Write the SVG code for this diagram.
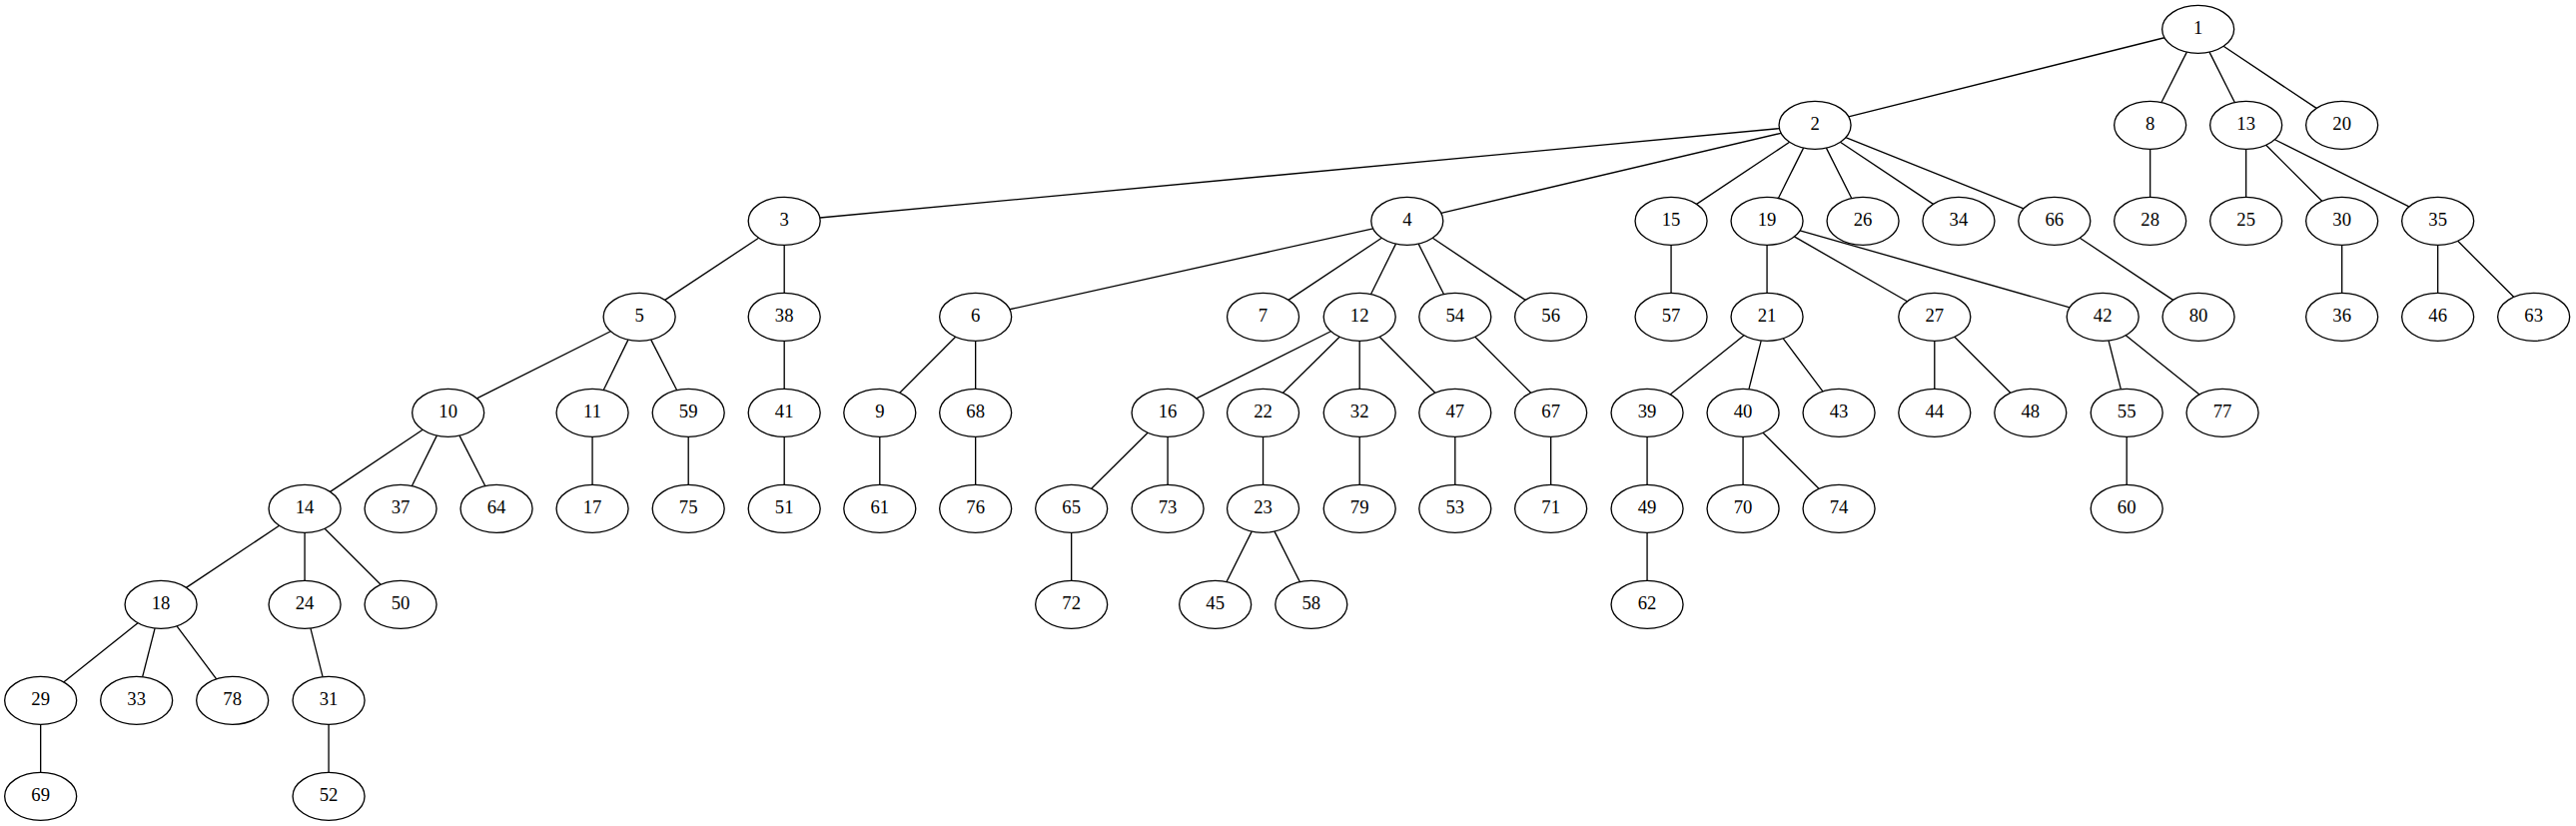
<svg xmlns="http://www.w3.org/2000/svg" width="2579" height="827" viewBox="0 0 2579 827">
<style>
.node ellipse{fill:#ffffff;stroke:#000000;stroke-width:1}
.node text{font-family:"Liberation Serif","Times New Roman",serif;font-size:14px;text-anchor:middle;fill:#000000}
#edges line{stroke:#000000;stroke-width:1;fill:none}
</style>
<rect x="0" y="0" width="2579" height="827" fill="#ffffff"/>
<g transform="scale(1.33333)">
<g id="edges">
<line x1="1625.2" y1="28.3" x2="1388.0" y2="87.7"/>
<line x1="1642.0" y1="39.1" x2="1623.0" y2="76.9"/>
<line x1="1659.0" y1="39.1" x2="1678.0" y2="76.9"/>
<line x1="1669.6" y1="34.7" x2="1739.4" y2="81.3"/>
<line x1="1336.0" y1="96.5" x2="615.6" y2="163.5"/>
<line x1="1337.3" y1="100.0" x2="1082.1" y2="160.0"/>
<line x1="1343.7" y1="106.7" x2="1273.9" y2="153.3"/>
<line x1="1354.2" y1="111.1" x2="1335.3" y2="148.9"/>
<line x1="1371.3" y1="111.1" x2="1390.3" y2="148.9"/>
<line x1="1381.8" y1="106.7" x2="1451.6" y2="153.3"/>
<line x1="1385.9" y1="103.3" x2="1519.5" y2="156.7"/>
<line x1="1614.5" y1="112" x2="1614.5" y2="148"/>
<line x1="1686.5" y1="112" x2="1686.5" y2="148"/>
<line x1="1701.5" y1="109.0" x2="1743.5" y2="151.0"/>
<line x1="1708.1" y1="104.8" x2="1808.9" y2="155.2"/>
<line x1="569.7" y1="178.7" x2="499.3" y2="225.3"/>
<line x1="588.9" y1="184" x2="588.9" y2="220"/>
<line x1="1031.0" y1="171.7" x2="758.1" y2="232.3"/>
<line x1="1037.5" y1="178.7" x2="967.5" y2="225.3"/>
<line x1="1048.1" y1="183.1" x2="1029.4" y2="220.9"/>
<line x1="1065.1" y1="183.1" x2="1084.1" y2="220.9"/>
<line x1="1075.7" y1="178.7" x2="1145.4" y2="225.3"/>
<line x1="1254.8" y1="184" x2="1254.8" y2="220"/>
<line x1="1326.8" y1="184" x2="1326.8" y2="220"/>
<line x1="1347.3" y1="177.7" x2="1432.1" y2="226.3"/>
<line x1="1351.6" y1="173.1" x2="1554.1" y2="230.9"/>
<line x1="1561.7" y1="178.7" x2="1631.7" y2="225.3"/>
<line x1="1758.5" y1="184" x2="1758.5" y2="220"/>
<line x1="1830.5" y1="184" x2="1830.5" y2="220"/>
<line x1="1845.5" y1="181.0" x2="1887.5" y2="223.0"/>
<line x1="458.5" y1="248.8" x2="358.1" y2="299.2"/>
<line x1="471.7" y1="255.1" x2="453.2" y2="292.9"/>
<line x1="488.8" y1="255.1" x2="508.2" y2="292.9"/>
<line x1="588.9" y1="256" x2="588.9" y2="292"/>
<line x1="717.5" y1="253.0" x2="675.6" y2="295.0"/>
<line x1="732.5" y1="256" x2="732.5" y2="292"/>
<line x1="999.3" y1="248.8" x2="898.4" y2="299.2"/>
<line x1="1005.9" y1="253.0" x2="963.4" y2="295.0"/>
<line x1="1020.9" y1="256" x2="1020.9" y2="292"/>
<line x1="1035.9" y1="253.0" x2="1077.6" y2="295.0"/>
<line x1="1107.6" y1="253.0" x2="1149.5" y2="295.0"/>
<line x1="1309.5" y1="251.8" x2="1254.1" y2="296.2"/>
<line x1="1322.4" y1="255.8" x2="1313.2" y2="292.2"/>
<line x1="1338.9" y1="254.1" x2="1368.7" y2="293.9"/>
<line x1="1452.6" y1="256" x2="1452.6" y2="292"/>
<line x1="1467.6" y1="253.0" x2="1509.6" y2="295.0"/>
<line x1="1583.3" y1="255.8" x2="1592.5" y2="292.2"/>
<line x1="1596.2" y1="251.8" x2="1651.5" y2="296.2"/>
<line x1="317.4" y1="322.7" x2="247.9" y2="369.3"/>
<line x1="328.0" y1="327.1" x2="309.3" y2="364.9"/>
<line x1="345.0" y1="327.1" x2="364.3" y2="364.9"/>
<line x1="444.8" y1="328" x2="444.8" y2="364"/>
<line x1="516.9" y1="328" x2="516.9" y2="364"/>
<line x1="588.9" y1="328" x2="588.9" y2="364"/>
<line x1="660.6" y1="328" x2="660.6" y2="364"/>
<line x1="732.5" y1="328" x2="732.5" y2="364"/>
<line x1="861.8" y1="325.0" x2="819.5" y2="367.0"/>
<line x1="876.8" y1="328" x2="876.8" y2="364"/>
<line x1="948.4" y1="328" x2="948.4" y2="364"/>
<line x1="1020.9" y1="328" x2="1020.9" y2="364"/>
<line x1="1092.6" y1="328" x2="1092.6" y2="364"/>
<line x1="1164.5" y1="328" x2="1164.5" y2="364"/>
<line x1="1236.8" y1="328" x2="1236.8" y2="364"/>
<line x1="1308.8" y1="328" x2="1308.8" y2="364"/>
<line x1="1323.8" y1="325.0" x2="1365.8" y2="367.0"/>
<line x1="1596.9" y1="328" x2="1596.9" y2="364"/>
<line x1="209.7" y1="394.7" x2="139.8" y2="441.3"/>
<line x1="228.8" y1="400" x2="228.8" y2="436"/>
<line x1="243.8" y1="397.0" x2="285.8" y2="439.0"/>
<line x1="804.5" y1="400" x2="804.5" y2="436"/>
<line x1="939.9" y1="399.1" x2="921.0" y2="436.9"/>
<line x1="957.0" y1="399.1" x2="976.0" y2="436.9"/>
<line x1="1236.8" y1="400" x2="1236.8" y2="436"/>
<line x1="103.5" y1="467.8" x2="47.8" y2="512.2"/>
<line x1="116.3" y1="471.8" x2="107.0" y2="508.2"/>
<line x1="132.8" y1="470.1" x2="162.5" y2="509.9"/>
<line x1="233.2" y1="471.8" x2="242.3" y2="508.2"/>
<line x1="30.5" y1="544" x2="30.5" y2="580"/>
<line x1="246.8" y1="544" x2="246.8" y2="580"/>
</g>
<g id="n1" class="node"><ellipse cx="1650.5" cy="22" rx="27" ry="18"/><text x="1650.5" y="25.7">1</text></g>
<g id="n2" class="node"><ellipse cx="1362.8" cy="94" rx="27" ry="18"/><text x="1362.8" y="97.7">2</text></g>
<g id="n8" class="node"><ellipse cx="1614.5" cy="94" rx="27" ry="18"/><text x="1614.5" y="97.7">8</text></g>
<g id="n13" class="node"><ellipse cx="1686.5" cy="94" rx="27" ry="18"/><text x="1686.5" y="97.7">13</text></g>
<g id="n20" class="node"><ellipse cx="1758.5" cy="94" rx="27" ry="18"/><text x="1758.5" y="97.7">20</text></g>
<g id="n3" class="node"><ellipse cx="588.9" cy="166" rx="27" ry="18"/><text x="588.9" y="169.7">3</text></g>
<g id="n4" class="node"><ellipse cx="1056.6" cy="166" rx="27" ry="18"/><text x="1056.6" y="169.7">4</text></g>
<g id="n15" class="node"><ellipse cx="1254.8" cy="166" rx="27" ry="18"/><text x="1254.8" y="169.7">15</text></g>
<g id="n19" class="node"><ellipse cx="1326.8" cy="166" rx="27" ry="18"/><text x="1326.8" y="169.7">19</text></g>
<g id="n26" class="node"><ellipse cx="1398.8" cy="166" rx="27" ry="18"/><text x="1398.8" y="169.7">26</text></g>
<g id="n34" class="node"><ellipse cx="1470.7" cy="166" rx="27" ry="18"/><text x="1470.7" y="169.7">34</text></g>
<g id="n66" class="node"><ellipse cx="1542.6" cy="166" rx="27" ry="18"/><text x="1542.6" y="169.7">66</text></g>
<g id="n28" class="node"><ellipse cx="1614.5" cy="166" rx="27" ry="18"/><text x="1614.5" y="169.7">28</text></g>
<g id="n25" class="node"><ellipse cx="1686.5" cy="166" rx="27" ry="18"/><text x="1686.5" y="169.7">25</text></g>
<g id="n30" class="node"><ellipse cx="1758.5" cy="166" rx="27" ry="18"/><text x="1758.5" y="169.7">30</text></g>
<g id="n35" class="node"><ellipse cx="1830.5" cy="166" rx="27" ry="18"/><text x="1830.5" y="169.7">35</text></g>
<g id="n5" class="node"><ellipse cx="480.1" cy="238" rx="27" ry="18"/><text x="480.1" y="241.7">5</text></g>
<g id="n38" class="node"><ellipse cx="588.9" cy="238" rx="27" ry="18"/><text x="588.9" y="241.7">38</text></g>
<g id="n6" class="node"><ellipse cx="732.5" cy="238" rx="27" ry="18"/><text x="732.5" y="241.7">6</text></g>
<g id="n7" class="node"><ellipse cx="948.4" cy="238" rx="27" ry="18"/><text x="948.4" y="241.7">7</text></g>
<g id="n12" class="node"><ellipse cx="1020.9" cy="238" rx="27" ry="18"/><text x="1020.9" y="241.7">12</text></g>
<g id="n54" class="node"><ellipse cx="1092.6" cy="238" rx="27" ry="18"/><text x="1092.6" y="241.7">54</text></g>
<g id="n56" class="node"><ellipse cx="1164.5" cy="238" rx="27" ry="18"/><text x="1164.5" y="241.7">56</text></g>
<g id="n57" class="node"><ellipse cx="1254.8" cy="238" rx="27" ry="18"/><text x="1254.8" y="241.7">57</text></g>
<g id="n21" class="node"><ellipse cx="1326.8" cy="238" rx="27" ry="18"/><text x="1326.8" y="241.7">21</text></g>
<g id="n27" class="node"><ellipse cx="1452.6" cy="238" rx="27" ry="18"/><text x="1452.6" y="241.7">27</text></g>
<g id="n42" class="node"><ellipse cx="1578.9" cy="238" rx="27" ry="18"/><text x="1578.9" y="241.7">42</text></g>
<g id="n80" class="node"><ellipse cx="1650.8" cy="238" rx="27" ry="18"/><text x="1650.8" y="241.7">80</text></g>
<g id="n36" class="node"><ellipse cx="1758.5" cy="238" rx="27" ry="18"/><text x="1758.5" y="241.7">36</text></g>
<g id="n46" class="node"><ellipse cx="1830.5" cy="238" rx="27" ry="18"/><text x="1830.5" y="241.7">46</text></g>
<g id="n63" class="node"><ellipse cx="1902.5" cy="238" rx="27" ry="18"/><text x="1902.5" y="241.7">63</text></g>
<g id="n10" class="node"><ellipse cx="336.5" cy="310" rx="27" ry="18"/><text x="336.5" y="313.7">10</text></g>
<g id="n11" class="node"><ellipse cx="444.8" cy="310" rx="27" ry="18"/><text x="444.8" y="313.7">11</text></g>
<g id="n59" class="node"><ellipse cx="516.9" cy="310" rx="27" ry="18"/><text x="516.9" y="313.7">59</text></g>
<g id="n41" class="node"><ellipse cx="588.9" cy="310" rx="27" ry="18"/><text x="588.9" y="313.7">41</text></g>
<g id="n9" class="node"><ellipse cx="660.6" cy="310" rx="27" ry="18"/><text x="660.6" y="313.7">9</text></g>
<g id="n68" class="node"><ellipse cx="732.5" cy="310" rx="27" ry="18"/><text x="732.5" y="313.7">68</text></g>
<g id="n16" class="node"><ellipse cx="876.8" cy="310" rx="27" ry="18"/><text x="876.8" y="313.7">16</text></g>
<g id="n22" class="node"><ellipse cx="948.4" cy="310" rx="27" ry="18"/><text x="948.4" y="313.7">22</text></g>
<g id="n32" class="node"><ellipse cx="1020.9" cy="310" rx="27" ry="18"/><text x="1020.9" y="313.7">32</text></g>
<g id="n47" class="node"><ellipse cx="1092.6" cy="310" rx="27" ry="18"/><text x="1092.6" y="313.7">47</text></g>
<g id="n67" class="node"><ellipse cx="1164.5" cy="310" rx="27" ry="18"/><text x="1164.5" y="313.7">67</text></g>
<g id="n39" class="node"><ellipse cx="1236.8" cy="310" rx="27" ry="18"/><text x="1236.8" y="313.7">39</text></g>
<g id="n40" class="node"><ellipse cx="1308.8" cy="310" rx="27" ry="18"/><text x="1308.8" y="313.7">40</text></g>
<g id="n43" class="node"><ellipse cx="1380.8" cy="310" rx="27" ry="18"/><text x="1380.8" y="313.7">43</text></g>
<g id="n44" class="node"><ellipse cx="1452.6" cy="310" rx="27" ry="18"/><text x="1452.6" y="313.7">44</text></g>
<g id="n48" class="node"><ellipse cx="1524.6" cy="310" rx="27" ry="18"/><text x="1524.6" y="313.7">48</text></g>
<g id="n55" class="node"><ellipse cx="1596.9" cy="310" rx="27" ry="18"/><text x="1596.9" y="313.7">55</text></g>
<g id="n77" class="node"><ellipse cx="1668.8" cy="310" rx="27" ry="18"/><text x="1668.8" y="313.7">77</text></g>
<g id="n14" class="node"><ellipse cx="228.8" cy="382" rx="27" ry="18"/><text x="228.8" y="385.7">14</text></g>
<g id="n37" class="node"><ellipse cx="300.8" cy="382" rx="27" ry="18"/><text x="300.8" y="385.7">37</text></g>
<g id="n64" class="node"><ellipse cx="372.8" cy="382" rx="27" ry="18"/><text x="372.8" y="385.7">64</text></g>
<g id="n17" class="node"><ellipse cx="444.8" cy="382" rx="27" ry="18"/><text x="444.8" y="385.7">17</text></g>
<g id="n75" class="node"><ellipse cx="516.9" cy="382" rx="27" ry="18"/><text x="516.9" y="385.7">75</text></g>
<g id="n51" class="node"><ellipse cx="588.9" cy="382" rx="27" ry="18"/><text x="588.9" y="385.7">51</text></g>
<g id="n61" class="node"><ellipse cx="660.6" cy="382" rx="27" ry="18"/><text x="660.6" y="385.7">61</text></g>
<g id="n76" class="node"><ellipse cx="732.5" cy="382" rx="27" ry="18"/><text x="732.5" y="385.7">76</text></g>
<g id="n65" class="node"><ellipse cx="804.5" cy="382" rx="27" ry="18"/><text x="804.5" y="385.7">65</text></g>
<g id="n73" class="node"><ellipse cx="876.8" cy="382" rx="27" ry="18"/><text x="876.8" y="385.7">73</text></g>
<g id="n23" class="node"><ellipse cx="948.4" cy="382" rx="27" ry="18"/><text x="948.4" y="385.7">23</text></g>
<g id="n79" class="node"><ellipse cx="1020.9" cy="382" rx="27" ry="18"/><text x="1020.9" y="385.7">79</text></g>
<g id="n53" class="node"><ellipse cx="1092.6" cy="382" rx="27" ry="18"/><text x="1092.6" y="385.7">53</text></g>
<g id="n71" class="node"><ellipse cx="1164.5" cy="382" rx="27" ry="18"/><text x="1164.5" y="385.7">71</text></g>
<g id="n49" class="node"><ellipse cx="1236.8" cy="382" rx="27" ry="18"/><text x="1236.8" y="385.7">49</text></g>
<g id="n70" class="node"><ellipse cx="1308.8" cy="382" rx="27" ry="18"/><text x="1308.8" y="385.7">70</text></g>
<g id="n74" class="node"><ellipse cx="1380.8" cy="382" rx="27" ry="18"/><text x="1380.8" y="385.7">74</text></g>
<g id="n60" class="node"><ellipse cx="1596.9" cy="382" rx="27" ry="18"/><text x="1596.9" y="385.7">60</text></g>
<g id="n18" class="node"><ellipse cx="120.8" cy="454" rx="27" ry="18"/><text x="120.8" y="457.7">18</text></g>
<g id="n24" class="node"><ellipse cx="228.8" cy="454" rx="27" ry="18"/><text x="228.8" y="457.7">24</text></g>
<g id="n50" class="node"><ellipse cx="300.8" cy="454" rx="27" ry="18"/><text x="300.8" y="457.7">50</text></g>
<g id="n72" class="node"><ellipse cx="804.5" cy="454" rx="27" ry="18"/><text x="804.5" y="457.7">72</text></g>
<g id="n45" class="node"><ellipse cx="912.5" cy="454" rx="27" ry="18"/><text x="912.5" y="457.7">45</text></g>
<g id="n58" class="node"><ellipse cx="984.6" cy="454" rx="27" ry="18"/><text x="984.6" y="457.7">58</text></g>
<g id="n62" class="node"><ellipse cx="1236.8" cy="454" rx="27" ry="18"/><text x="1236.8" y="457.7">62</text></g>
<g id="n29" class="node"><ellipse cx="30.5" cy="526" rx="27" ry="18"/><text x="30.5" y="529.7">29</text></g>
<g id="n33" class="node"><ellipse cx="102.5" cy="526" rx="27" ry="18"/><text x="102.5" y="529.7">33</text></g>
<g id="n78" class="node"><ellipse cx="174.5" cy="526" rx="27" ry="18"/><text x="174.5" y="529.7">78</text></g>
<g id="n31" class="node"><ellipse cx="246.8" cy="526" rx="27" ry="18"/><text x="246.8" y="529.7">31</text></g>
<g id="n69" class="node"><ellipse cx="30.5" cy="598" rx="27" ry="18"/><text x="30.5" y="601.7">69</text></g>
<g id="n52" class="node"><ellipse cx="246.8" cy="598" rx="27" ry="18"/><text x="246.8" y="601.7">52</text></g>
</g>
</svg>
